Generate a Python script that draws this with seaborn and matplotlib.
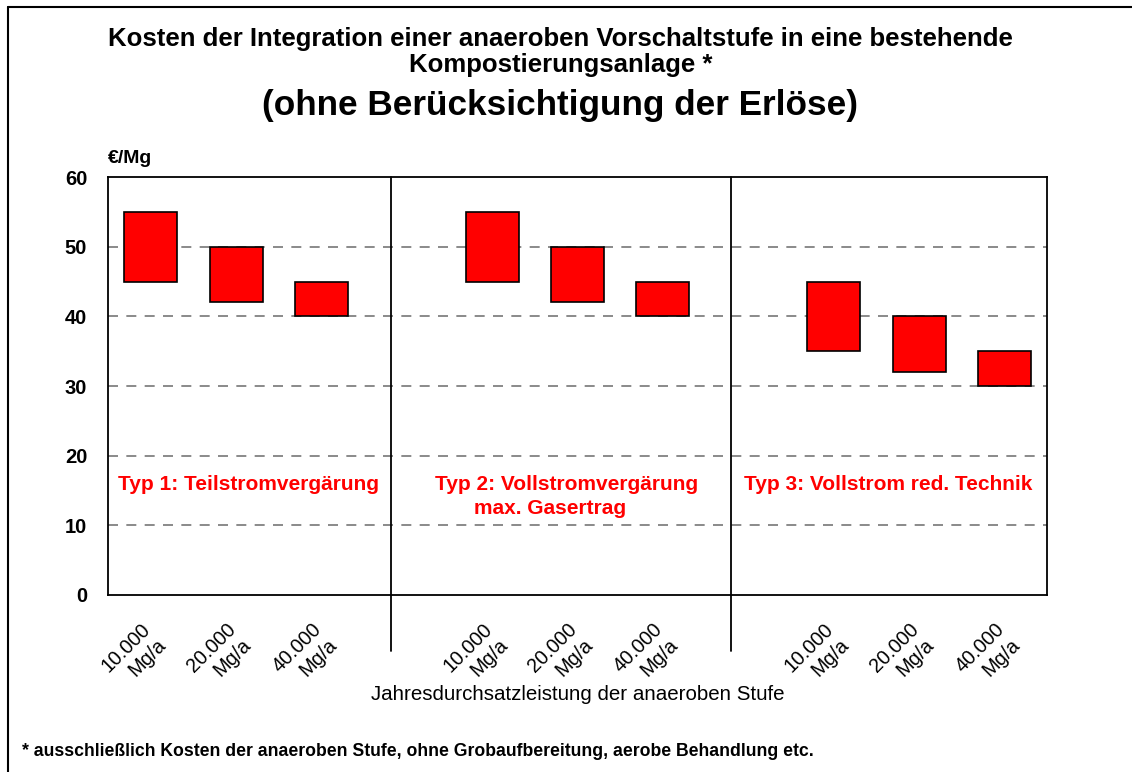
import numpy as np
import pandas as pd
import matplotlib
matplotlib.use("Agg")
import matplotlib.pyplot as plt
import matplotlib.transforms as mtransforms
from matplotlib.lines import Line2D
import seaborn as sns

# slots: three groups of three plants, one empty slot between groups
slots = ["T1_10", "T1_20", "T1_40", "gap1",
         "T2_10", "T2_20", "T2_40", "gap2",
         "T3_10", "T3_20", "T3_40"]
plants = ["T1_10", "T1_20", "T1_40",
          "T2_10", "T2_20", "T2_40",
          "T3_10", "T3_20", "T3_40"]
cost_low = [45, 42, 40, 45, 42, 40, 35, 32, 30]
cost_high = [55, 50, 45, 55, 50, 45, 45, 40, 35]
tick_labels = ["10.000\nMg/a", "20.000\nMg/a", "40.000\nMg/a", "",
               "10.000\nMg/a", "20.000\nMg/a", "40.000\nMg/a", "",
               "10.000\nMg/a", "20.000\nMg/a", "40.000\nMg/a"]

df = pd.DataFrame({"plant": plants,
                   "low": cost_low,
                   "span": np.array(cost_high) - np.array(cost_low)})

sns.set_style("white")
plt.rcParams["font.family"] = ["Liberation Sans", "DejaVu Sans"]
plt.rcParams["text.color"] = "black"
plt.rcParams["xtick.color"] = "black"
plt.rcParams["ytick.color"] = "black"
plt.rcParams["axes.labelcolor"] = "black"

fig = plt.figure(figsize=(11.32, 7.72), dpi=100)
ax = fig.add_axes([0.0954, 0.2293, 0.8296, 0.5414])

sns.barplot(data=df, x="plant", y="span", order=slots, bottom=df["low"].values,
            color="#ff0000", saturation=1, width=0.62,
            edgecolor="black", linewidth=1.2, ax=ax, zorder=3)

ax.set_ylim(0, 60)
ax.set_xlim(-0.5, 10.5)
ax.set_yticks([0, 10, 20, 30, 40, 50, 60])
ax.set_yticklabels(["0", "10", "20", "30", "40", "50", "60"],
                   fontsize=14.5, fontweight="bold")
ax.tick_params(axis="y", length=0, pad=15)
ax.tick_params(axis="x", length=0, pad=18)
ax.set_xticks(range(len(slots)))
ax.set_xticklabels(tick_labels, fontsize=14.2, rotation=45, ha="right",
                   rotation_mode="anchor", va="top", multialignment="right")
shift = mtransforms.ScaledTranslation(-10 / 100, 0, fig.dpi_scale_trans)
for lab in ax.get_xticklabels():
    lab.set_transform(lab.get_transform() + shift)
ax.set_xlabel("Jahresdurchsatzleistung der anaeroben Stufe", fontsize=14.8, labelpad=-5)
ax.set_ylabel("")

for y in [10, 20, 30, 40, 50]:
    ax.axhline(y, color="#777777", linestyle=(0, (6, 5)), linewidth=1.2, zorder=1)
for s in ax.spines.values():
    s.set_color("black")
    s.set_linewidth(1.3)

# group dividers reaching down into the tick label area
for xd in [2.82, 6.80]:
    ax.axvline(xd, ymin=-0.133, ymax=1, color="black", linewidth=1.3,
               clip_on=False, zorder=4)

red = "#ff0000"
ax.text(1.15, 15.8, "Typ 1: Teilstromvergärung", color=red, fontsize=15,
        fontweight="bold", ha="center", va="center")
ax.text(4.87, 15.8, "Typ 2: Vollstromvergärung", color=red, fontsize=15,
        fontweight="bold", ha="center", va="center")
ax.text(4.68, 12.4, "max. Gasertrag", color=red, fontsize=15,
        fontweight="bold", ha="center", va="center")
ax.text(8.64, 15.8, "Typ 3: Vollstrom red. Technik", color=red, fontsize=15,
        fontweight="bold", ha="center", va="center")

ax.text(0, 1.045, "€/Mg", transform=ax.transAxes, fontsize=14,
        fontweight="bold", ha="left", va="center")

fig.text(0.495, 0.950, "Kosten der Integration einer anaeroben Vorschaltstufe in eine bestehende",
         fontsize=18.5, fontweight="bold", ha="center", va="center")
fig.text(0.495, 0.916, "Kompostierungsanlage *",
         fontsize=18.5, fontweight="bold", ha="center", va="center")
fig.text(0.495, 0.863, "(ohne Berücksichtigung der Erlöse)",
         fontsize=25.3, fontweight="bold", ha="center", va="center")
fig.text(0.019, 0.026,
         "* ausschließlich Kosten der anaeroben Stufe, ohne Grobaufbereitung, aerobe Behandlung etc.",
         fontsize=12.7, fontweight="bold", ha="left", va="center")

# figure frame (only top and left edges visible)
fig.add_artist(Line2D([0.0075, 0.0075], [0, 0.991], transform=fig.transFigure,
                      color="black", linewidth=1.5))
fig.add_artist(Line2D([0.0075, 1], [0.991, 0.991], transform=fig.transFigure,
                      color="black", linewidth=1.5))

fig.savefig("out.png", dpi=100)
